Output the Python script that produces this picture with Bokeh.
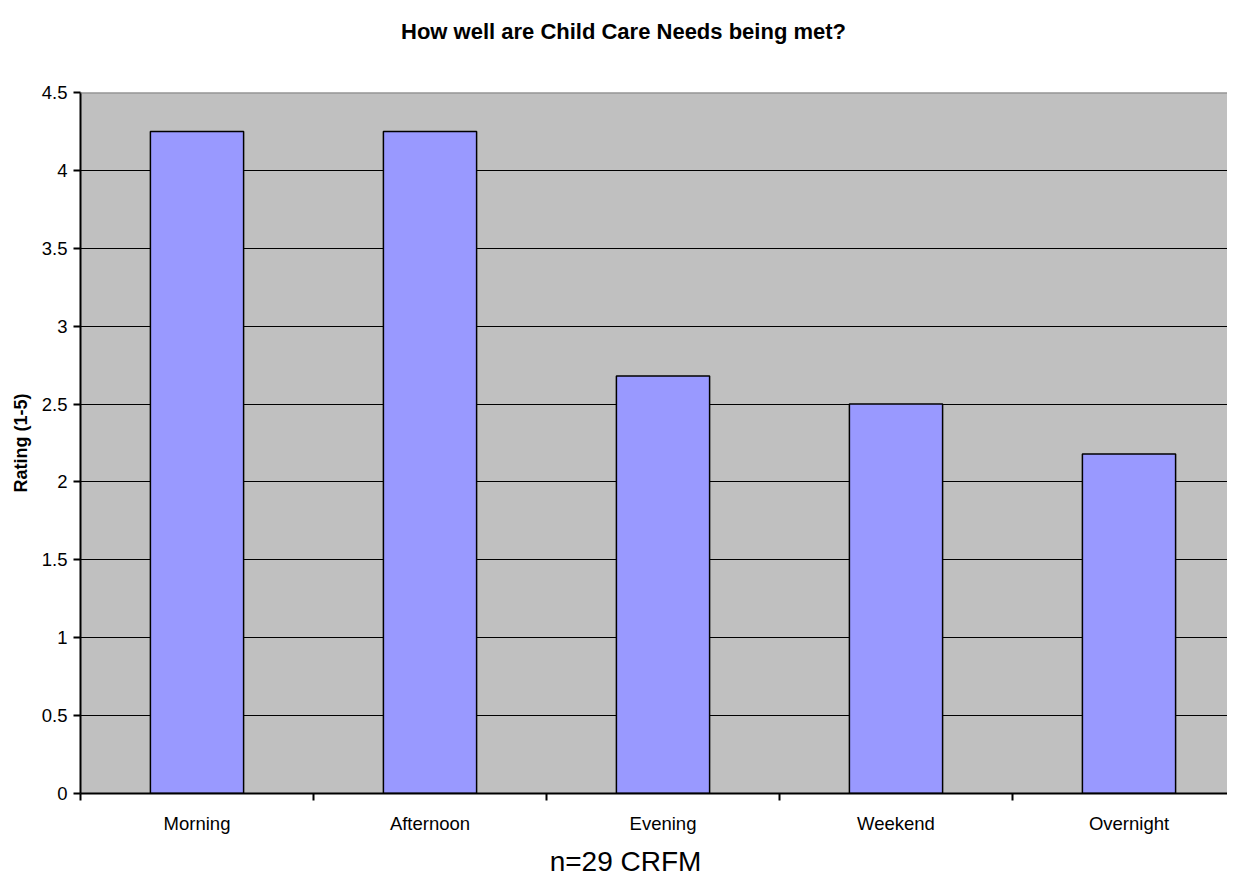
import numpy as np
from bokeh.plotting import figure
from bokeh.layouts import column
from bokeh.models import Range1d, FixedTicker, Span, ColumnDataSource
from bokeh.core.properties import value
from bokeh.embed import file_html
from bokeh.resources import INLINE

categories = ["Morning", "Afternoon", "Evening", "Weekend", "Overnight"]
ratings = [4.25, 4.25, 2.68, 2.5, 2.18]
y_ticks = [0, 0.5, 1, 1.5, 2, 2.5, 3, 3.5, 4, 4.5]
y_labels = ["0", "0.5", "1", "1.5", "2", "2.5", "3", "3.5", "4", "4.5"]
title_text = "How well are Child Care Needs being met?"
y_title = "Rating (1-5)"
note_text = "n=29 CRFM"

FONT = "Liberation Sans"
W, H = 1227, 878
TITLE_H = 80          # band holding the chart title
LEFT, TOP, FH = 80, 12, 701
BOTTOM = 45
FW = W - LEFT
MAIN_H = TOP + FH + BOTTOM
NOTE_H = H - TITLE_H - MAIN_H
CAT_PX = 233.0

n = len(categories)
centers = list(np.arange(n) + 0.5)
src = ColumnDataSource(dict(x=centers, top=ratings, cat=categories))


def text_band(height, txt, x, y, size, style):
    # the column aligns this band's frame with the chart frame (LEFT .. W)
    f = figure(output_backend="svg", toolbar_location=None, width=W, height=height,
               x_range=Range1d(LEFT, W), y_range=Range1d(0, height),
               x_axis_type=None, y_axis_type=None, min_border=0,
               outline_line_color=None, background_fill_color="white",
               border_fill_color="white")
    f.xgrid.visible = False
    f.ygrid.visible = False
    f.text(x=[x], y=[y], text=[txt], text_font=value(FONT), text_font_size=size,
           text_font_style=style, text_color="black", text_align="center",
           text_baseline="alphabetic")
    return f


top_band = text_band(TITLE_H, title_text, 623, TITLE_H - 31, "22px", "bold")

p = figure(output_backend="svg", toolbar_location=None,
           frame_width=FW, frame_height=FH,
           min_border_left=LEFT, min_border_right=0, min_border_top=TOP,
           min_border_bottom=BOTTOM,
           x_range=Range1d(0, FW / CAT_PX), y_range=Range1d(0, 4.5),
           background_fill_color="#C0C0C0", border_fill_color="white",
           outline_line_color=None)

p.vbar(x="x", top="top", width=0.4, bottom=0, source=src,
       fill_color="#9999FF", line_color="black", line_width=1.5)

p.add_layout(Span(location=4.5, dimension="width", line_color="#808080", line_width=2))

# x axis
xa = p.xaxis[0]
xa.ticker = FixedTicker(ticks=centers, minor_ticks=list(range(n + 1)))
xa.major_label_overrides = {float(c): lab for c, lab in zip(centers, categories)}
xa.major_tick_out = 0
xa.major_tick_in = 0
xa.minor_tick_out = 7
xa.minor_tick_in = 0
xa.minor_tick_line_color = "black"
xa.minor_tick_line_width = 2
xa.axis_line_width = 2
xa.axis_line_color = "black"
xa.major_label_text_font = FONT
xa.major_label_text_font_size = "18.5px"
xa.major_label_text_color = "black"
xa.major_label_standoff = 12

# y axis
ya = p.yaxis[0]
ya.ticker = FixedTicker(ticks=y_ticks)
ya.major_label_overrides = {float(t): lab for t, lab in zip(y_ticks, y_labels)}
ya.major_tick_out = 7
ya.major_tick_in = 0
ya.major_tick_line_width = 2
ya.minor_tick_line_color = None
ya.axis_line_width = 2
ya.axis_line_color = "black"
ya.major_label_text_font = FONT
ya.major_label_text_font_size = "18.5px"
ya.major_label_text_color = "black"
ya.major_label_standoff = 6
ya.axis_label = y_title
ya.axis_label_text_font = FONT
ya.axis_label_text_font_size = "18px"
ya.axis_label_text_font_style = "bold"
ya.axis_label_text_color = "black"
ya.axis_label_standoff = 8

p.xgrid.grid_line_color = None
p.ygrid.grid_line_color = "black"
p.ygrid.grid_line_width = 1

bottom_band = text_band(NOTE_H, note_text, 625, 17, "28px", "normal")

layout = column(top_band, p, bottom_band, spacing=0)
open("out.html", "w").write(file_html(layout, INLINE))
